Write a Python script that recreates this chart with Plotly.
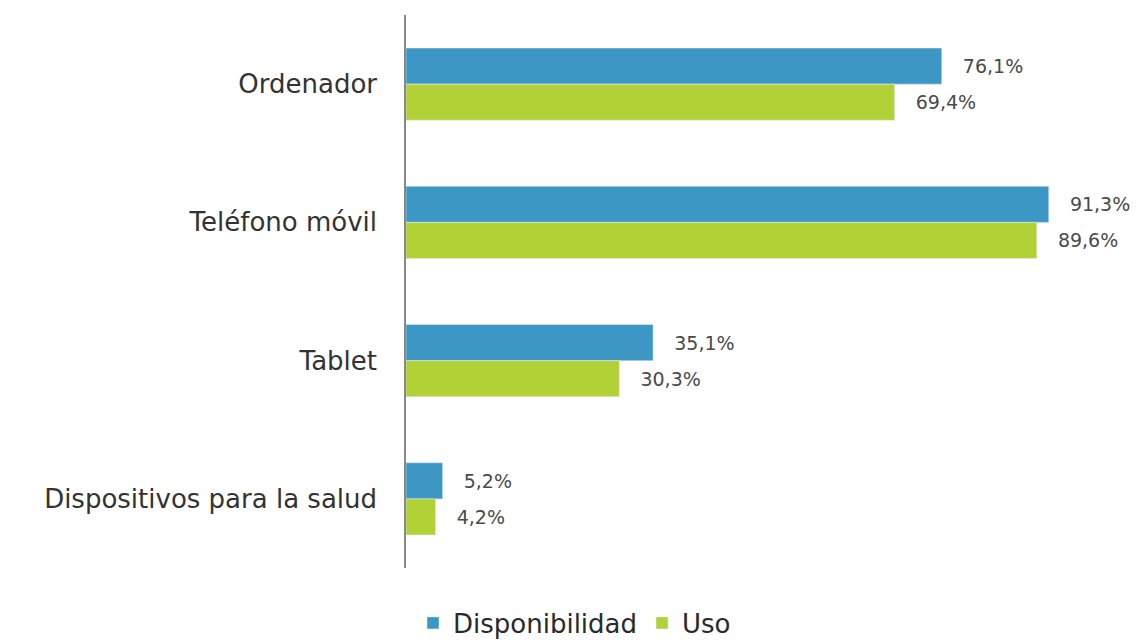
import plotly.graph_objects as go

categorias = ["Ordenador", "Teléfono móvil", "Tablet", "Dispositivos para la salud"]
disponibilidad = [76.1, 91.3, 35.1, 5.2]
uso = [69.4, 89.6, 30.3, 4.2]

azul = "#3d97c4"
verde = "#b1d136"

fig = go.Figure()
fig.add_trace(go.Bar(
    y=categorias, x=disponibilidad, name="Disponibilidad", orientation="h",
    marker_color=azul, texttemplate="\u00a0\u00a0\u00a0%{x:.1f}%", textposition="outside",
    cliponaxis=False,
))
fig.add_trace(go.Bar(
    y=categorias, x=uso, name="Uso", orientation="h",
    marker_color=verde, texttemplate="\u00a0\u00a0\u00a0%{x:.1f}%", textposition="outside",
    cliponaxis=False,
))

fig.update_traces(textfont=dict(family="DejaVu Sans", size=19, color="#4a4a4a"))

# the page body has an 8px margin, so the figure is shrunk and shifted by that
fig.update_layout(
    width=1133, height=634,
    barmode="group", bargap=0.478, bargroupgap=0,
    separators=",.",
    plot_bgcolor="white", paper_bgcolor="white",
    margin=dict(l=398, r=31, t=7, b=74, autoexpand=False),
    font=dict(family="DejaVu Sans", color="#333333"),
    showlegend=True,
    legend=dict(orientation="h", x=0.5, xanchor="center", xref="container",
                y=0.03, yanchor="middle", yref="container",
                font=dict(size=26, color="#2a2a2a"), itemwidth=30),
)
fig.update_xaxes(range=[0, 100], showgrid=False, zeroline=False, showticklabels=False,
                 showline=False)
fig.update_yaxes(autorange="reversed", showline=True, linecolor="#888888", linewidth=1.5,
                 ticks="", tickfont=dict(size=26, color="#333333"), ticklabelstandoff=22,
                 showgrid=False)

fig.write_html("out.html")
